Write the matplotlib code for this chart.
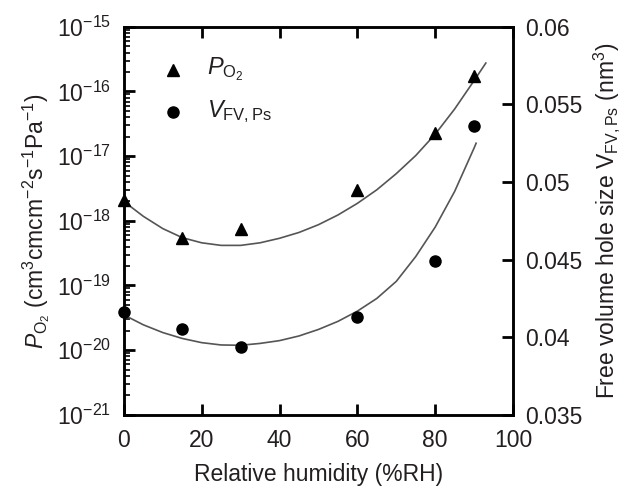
import math

import matplotlib
matplotlib.use("Agg")
import matplotlib.pyplot as plt
from matplotlib.ticker import LogLocator, FixedLocator, NullFormatter, FuncFormatter

plt.rcParams["font.family"] = ["Liberation Sans", "DejaVu Sans"]
plt.rcParams["mathtext.fontset"] = "custom"
plt.rcParams["mathtext.rm"] = "Liberation Sans"
plt.rcParams["mathtext.it"] = "Liberation Sans:italic"
plt.rcParams["mathtext.bf"] = "Liberation Sans:bold"

rh = [0, 15, 30, 60, 80, 90]
p_o2 = [2.1e-18, 5.5e-19, 7.5e-19, 3.0e-18, 2.3e-17, 1.75e-16]
v_fv = [0.0416, 0.0405, 0.0394, 0.0413, 0.0449, 0.0536]

fit_p_x = [0, 5, 10, 15, 20, 25, 30, 35, 40, 45, 50, 55, 60, 65, 70, 75, 80, 85, 90, 93]
fit_p_log = [-17.70, -17.93, -18.12, -18.26, -18.34, -18.38, -18.38, -18.34, -18.27, -18.18,
             -18.06, -17.91, -17.73, -17.52, -17.27, -16.99, -16.66, -16.27, -15.83, -15.56]
fit_v_x = [0, 5, 10, 15, 20, 25, 30, 35, 40, 45, 50, 55, 60, 65, 70, 75, 80, 85, 90, 90.5]
fit_v = [0.04144, 0.04080, 0.04030, 0.03992, 0.03965, 0.03950, 0.03948, 0.03960, 0.03978,
         0.04008, 0.04050, 0.04102, 0.04168, 0.04250, 0.04360, 0.04520, 0.04710, 0.04940,
         0.05220, 0.05250]

left_ticks = [1e-21, 1e-20, 1e-19, 1e-18, 1e-17, 1e-16, 1e-15]
right_ticks = [0.035, 0.04, 0.045, 0.05, 0.055, 0.06]
x_ticks = [0, 20, 40, 60, 80, 100]

ink = "#231f20"
fs = 16.5

fig = plt.figure(figsize=(6.35, 4.88), dpi=100)
ax = fig.add_axes([0.195, 0.150, 0.613, 0.795])
ax2 = ax.twinx()

ax.plot(fit_p_x, [10 ** v for v in fit_p_log], color="#555555", lw=1.2, zorder=2)
ax.plot(rh, p_o2, linestyle="none", marker="^", ms=8, color="black", clip_on=False, zorder=3)
ax2.plot(fit_v_x, fit_v, color="#555555", lw=1.2, zorder=2)
ax2.plot(rh, v_fv, linestyle="none", marker="o", ms=8, color="black", clip_on=False, zorder=3)

ax.set_yscale("log")
ax.set_xlim(0, 100)
ax.set_ylim(1e-21, 1e-15)
ax2.set_ylim(0.035, 0.06)

ax.xaxis.set_major_locator(FixedLocator(x_ticks))
ax.yaxis.set_major_locator(FixedLocator(left_ticks))
ax.yaxis.set_minor_locator(LogLocator(base=10, subs=range(2, 10), numticks=100))
ax.yaxis.set_minor_formatter(NullFormatter())
ax.yaxis.set_major_formatter(FuncFormatter(lambda v, p: "10$^{%d}$" % round(math.log10(v))))
ax2.yaxis.set_major_locator(FixedLocator(right_ticks))
ax2.yaxis.set_major_formatter(FuncFormatter(lambda v, p: "%g" % round(v, 3)))

ax.tick_params(axis="x", which="both", direction="in", top=True, length=8, width=2,
               labelsize=fs, labelcolor=ink, pad=10)
ax.tick_params(axis="y", which="major", direction="in", length=8, width=2,
               labelsize=fs, labelcolor=ink, pad=9)
ax.tick_params(axis="y", which="minor", direction="in", length=4, width=1.2)
ax2.tick_params(axis="y", which="major", direction="in", length=8, width=2,
                labelsize=fs, labelcolor=ink, pad=9)

for a in (ax, ax2):
    for s in a.spines.values():
        s.set_linewidth(1.8)

ax.set_xlabel("Relative humidity (%RH)", fontsize=fs, color=ink, labelpad=8)
ax.set_ylabel(r"$P_{\mathrm{O_2}}$ (cm$^3$cmcm$^{-2}$s$^{-1}$Pa$^{-1}$)",
              fontsize=fs, color=ink, labelpad=4)
ax2.set_ylabel(r"Free volume hole size $\mathrm{V_{FV,Ps}}$ (nm$^3$)",
               fontsize=fs, color=ink, labelpad=6)

# legend drawn as in the picture
ax.plot([12.6], [10 ** -15.66], linestyle="none", marker="^", ms=8, color="black")
ax.text(21.3, 10 ** -15.66, r"$P_{\mathrm{O_2}}$", fontsize=17, color=ink, va="center")
ax.plot([12.6], [10 ** -16.31], linestyle="none", marker="o", ms=8, color="black")
ax.text(21.3, 10 ** -16.31, r"$V_{\mathrm{FV,Ps}}$", fontsize=17, color=ink, va="center")

fig.savefig("out.png", dpi=100)
